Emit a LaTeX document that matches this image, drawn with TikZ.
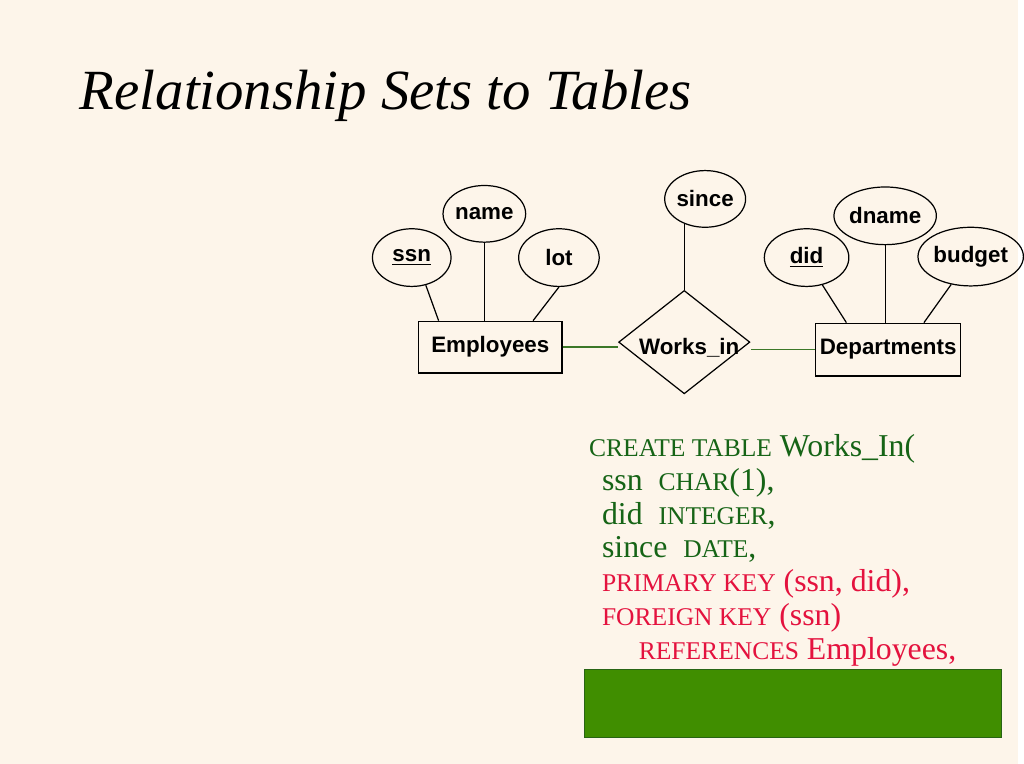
\documentclass[tikz,border=0pt]{standalone}
\usepackage{fontspec}
\setmainfont{Liberation Serif}
\newfontfamily\erfont{Liberation Sans}
\usepackage{xcolor}
\usetikzlibrary{shapes.geometric}
\definecolor{slidebg}{RGB}{253,245,234}
\definecolor{sqlgreen}{RGB}{22,100,22}
\definecolor{sqlred}{RGB}{228,18,62}
\definecolor{linkgreen}{RGB}{60,120,40}
\definecolor{coverfill}{RGB}{64,142,0}
\definecolor{coverdraw}{RGB}{40,100,20}
\newcommand{\sqlkw}[1]{{\fontsize{14.6}{16}\selectfont #1}}
\tikzset{erbase/.style={draw, line width=0.7pt, inner sep=0pt,
font=\erfont\bfseries\fontsize{12.8}{14}\selectfont},
attr/.style={erbase, ellipse},
entity/.style={erbase, rectangle},
rel/.style={erbase, diamond}}
\begin{document}
\begin{tikzpicture}[x=0.02cm, y=-0.02cm, sqlline/.style={anchor=base west, inner sep=0pt, font=\fontsize{18.2}{20}\selectfont},
link/.style={linkgreen, line width=0.7pt}, attrline/.style={line width=0.7pt}]
	\fill[slidebg] (0,0) rectangle (1024,768);
	\node[anchor=base west, inner sep=0pt, font=\fontsize{32.5}{38}\selectfont\itshape] (title) at (80,110) {Relationship Sets to Tables};
	% entities and relationship
	\node[entity, minimum width=2.88cm, minimum height=1.04cm] (emp) at (493,349) {Employees};
	\node[entity, minimum width=2.92cm, minimum height=1.06cm] (dept) at (893,351.5) {Departments};
	\node[rel, minimum width=2.64cm, minimum height=2.08cm, label={[erbase, draw=none, yshift=-0.12cm, xshift=0.1cm]center:Works\_in}] (works) at (688,344) {};
	% attributes
	\node[attr, minimum width=1.58cm, minimum height=1.16cm] (ssn) at (414,259) {\underline{ssn}};
	\node[attr, minimum width=1.6cm, minimum height=1.14cm] (name) at (487,215) {name};
	\node[attr, minimum width=1.62cm, minimum height=1.16cm] (lot) at (562,259) {lot};
	\node[attr, minimum width=1.56cm, minimum height=1.14cm] (since) at (709,200) {since};
	\node[attr, minimum width=1.7cm, minimum height=1.16cm] (did) at (811,259) {\underline{did}};
	\node[attr, minimum width=2.06cm, minimum height=1.16cm] (dname) at (890,217) {dname};
	\node[attr, minimum width=1.84cm, minimum height=1.18cm] (budget) at (976,258) {budget};
	% connectors
	\draw[attrline] (ssn.297) -- ([xshift=-1.04cm]emp.north);
	\draw[attrline] (name.south) -- (name.south |- emp.north);
	\draw[attrline] (lot.south) -- ([xshift=0.86cm]emp.north);
	\draw[attrline] (works.north) -- (works.north |- since.231);
	\draw[attrline] (did.300) -- ([xshift=-0.84cm]dept.north);
	\draw[attrline] (dname.south) -- (dname.south |- dept.north);
	\draw[attrline] (budget.235) -- ([xshift=0.72cm]dept.north);
	\draw[link] (emp.east) -- (emp.east -| works.west);
	\draw[link] (dept.west) -- (dept.west -| works.east);
	% sql text
	\node[sqlline, sqlgreen] (sql1) at (592,459) {\sqlkw{CREATE TABLE} Works\_In(};
	\node[sqlline, sqlgreen] (sql2) at (605,493) {ssn\ \ \sqlkw{CHAR}(1),};
	\node[sqlline, sqlgreen] (sql3) at (605,527) {did\ \ \sqlkw{INTEGER},};
	\node[sqlline, sqlgreen] (sql4) at (605,561) {since\ \ \sqlkw{DATE},};
	\node[sqlline, sqlred] (sql5) at (605,595) {\sqlkw{PRIMARY KEY} (ssn, did),};
	\node[sqlline, sqlred] (sql6) at (605,629) {\sqlkw{FOREIGN KEY} (ssn)};
	\node[sqlline, sqlred] (sql7) at (642,663) {\sqlkw{REFERENCES} Employees,};
	\node[draw=coverdraw, fill=coverfill, line width=0.6pt, inner sep=0pt, minimum width=8.38cm, minimum height=1.38cm] (cover) at (797.5,707.5) {};
\end{tikzpicture}
\end{document}
